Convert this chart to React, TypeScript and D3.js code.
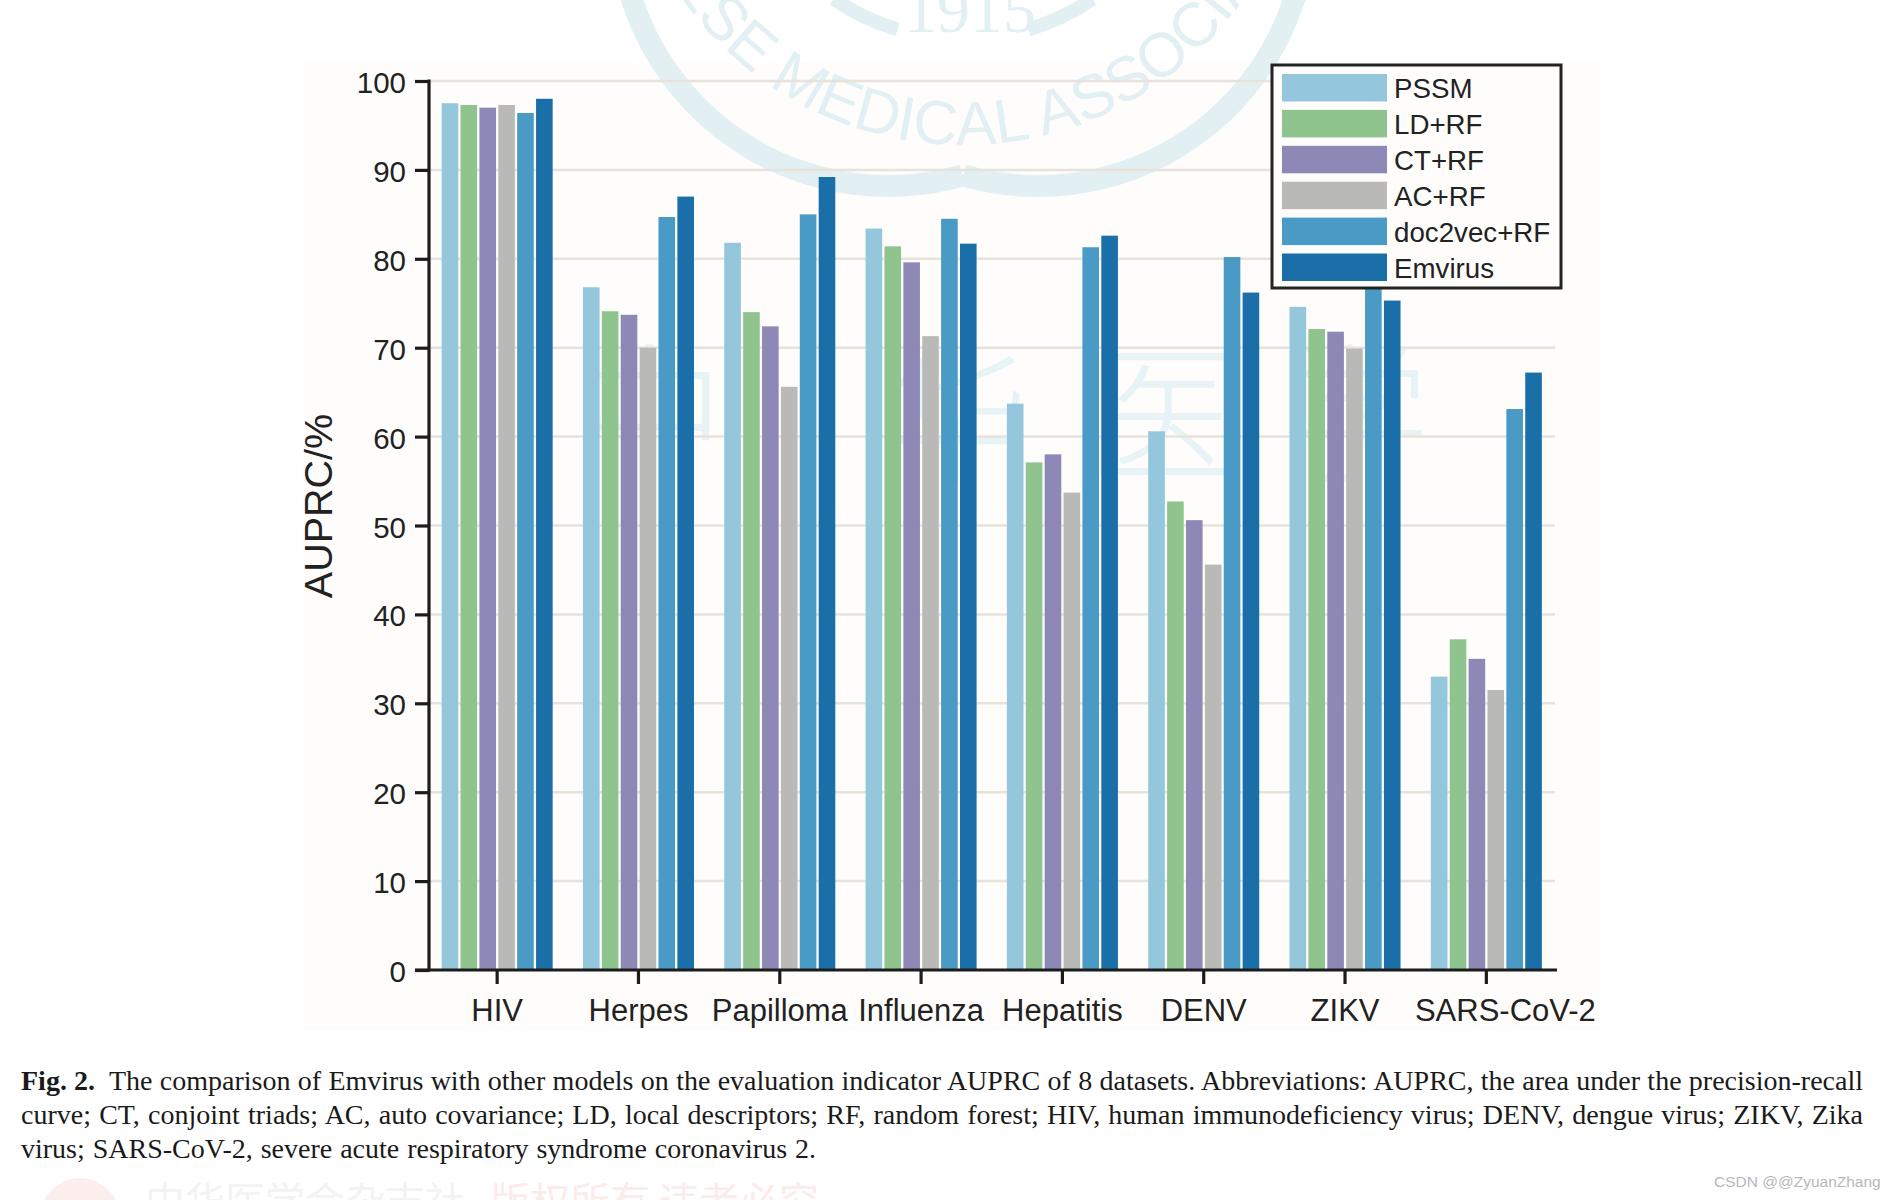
import { useEffect, useRef } from "react";
import * as d3 from "d3";

const WIDTH = 1894;
const HEIGHT = 1200;
const SANS = "'Liberation Sans', Arial, sans-serif";
const SERIF = "'Liberation Serif', serif";

const categories = ["HIV", "Herpes", "Papilloma", "Influenza", "Hepatitis", "DENV", "ZIKV", "SARS-CoV-2"];
const seriesNames = ["PSSM", "LD+RF", "CT+RF", "AC+RF", "doc2vec+RF", "Emvirus"];
const seriesColors = ["#94c6dc", "#8fc48f", "#8e88b6", "#b9b9b7", "#4a9ac6", "#1a6fa9"];

const pssm = [97.5, 76.8, 81.8, 83.4, 63.7, 60.6, 74.6, 33.0];
const ldRf = [97.3, 74.1, 74.0, 81.4, 57.1, 52.7, 72.1, 37.2];
const ctRf = [97.0, 73.7, 72.4, 79.6, 58.0, 50.6, 71.8, 35.0];
const acRf = [97.3, 70.0, 65.6, 71.3, 53.7, 45.6, 69.9, 31.5];
const doc2vecRf = [96.4, 84.7, 85.0, 84.5, 81.3, 80.2, 78.0, 63.1];
const emvirus = [98.0, 87.0, 89.2, 81.7, 82.6, 76.2, 75.3, 67.2];
const seriesValues = [pssm, ldRf, ctRf, acRf, doc2vecRf, emvirus];

const yTicks = [0, 10, 20, 30, 40, 50, 60, 70, 80, 90, 100];

const captionBold = "Fig. 2.";
const captionLines = [
  "The comparison of Emvirus with other models on the evaluation indicator AUPRC of 8 datasets. Abbreviations: AUPRC, the area under the precision-recall",
  "curve; CT, conjoint triads; AC, auto covariance; LD, local descriptors; RF, random forest; HIV, human immunodeficiency virus; DENV, dengue virus; ZIKV, Zika",
  "virus; SARS-CoV-2, severe acute respiratory syndrome coronavirus 2.",
];

const MARGIN = { top: 81, bottom: 970, left: 426.5, right: 1557 };
const WATERMARK = "#e2f0f4";

export default function App() {
  const svgRef = useRef<SVGSVGElement>(null);

  useEffect(() => {
    const svg = d3.select(svgRef.current);
    svg.selectAll("*").remove();

    svg.append("rect").attr("width", WIDTH).attr("height", HEIGHT).attr("fill", "#ffffff");
    // Off-white panel of the pasted figure
    svg.append("rect")
      .attr("x", 303)
      .attr("y", 62)
      .attr("width", 1297)
      .attr("height", 968)
      .attr("fill", "#fefdfc");

    // Journal seal watermark: two arcs that meet in a notch at the bottom
    const seal = svg.append("g");
    const sealX = 963;
    const ringArc = d3.arc<{ startAngle: number; endAngle: number }>()
      .innerRadius(258)
      .outerRadius(280);
    seal.append("path")
      .attr("transform", "translate(888,-83)")
      .attr("d", ringArc({ startAngle: Math.PI - 0.282, endAngle: Math.PI + 1.6 }))
      .attr("fill", WATERMARK);
    seal.append("path")
      .attr("transform", "translate(1038,-83)")
      .attr("d", ringArc({ startAngle: Math.PI - 1.6, endAngle: Math.PI + 0.282 }))
      .attr("fill", WATERMARK);

    const textR = 342;
    const textY = -197;
    seal.append("path")
      .attr("id", "seal-arc")
      .attr("fill", "none")
      .attr("d", `M${sealX - textR},${textY} A${textR},${textR} 0 0 0 ${sealX + textR},${textY}`);
    seal.append("text")
      .attr("font-family", "'Liberation Sans Narrow', 'Liberation Sans', sans-serif")
      .attr("font-size", 62)
      .attr("fill", WATERMARK)
      .append("textPath")
      .attr("href", "#seal-arc")
      .attr("startOffset", "50%")
      .attr("text-anchor", "middle")
      .text("CHINESE MEDICAL ASSOCIATION");

    const innerArc = d3.arc<{ startAngle: number; endAngle: number }>()
      .innerRadius(222)
      .outerRadius(236);
    [
      { startAngle: Math.PI + 0.29, endAngle: Math.PI + 0.6 },
      { startAngle: Math.PI - 0.6, endAngle: Math.PI - 0.29 },
    ].forEach((a) => {
      seal.append("path")
        .attr("transform", `translate(${sealX},-190)`)
        .attr("d", innerArc(a))
        .attr("fill", WATERMARK);
    });
    seal.append("text")
      .attr("x", 970)
      .attr("y", 32)
      .attr("text-anchor", "middle")
      .attr("font-family", SERIF)
      .attr("font-size", 66)
      .attr("fill", WATERMARK)
      .text("1915");

    // Calligraphy watermark behind the bars
    [["中", 650], ["华", 955], ["医", 1160], ["学", 1355]].forEach(([ch, x]) => {
      svg.append("text")
        .attr("x", x as number)
        .attr("y", 470)
        .attr("text-anchor", "middle")
        .attr("font-family", "'Noto Sans CJK SC'")
        .attr("font-weight", 300)
        .attr("font-size", 150)
        .attr("fill", "#e8f3f6")
        .text(ch as string);
    });

    const x0 = d3.scaleBand<string>()
      .domain(categories)
      .range([MARGIN.left, MARGIN.right])
      .paddingInner(0.2144)
      .paddingOuter(0.1072);
    const x1 = d3.scaleBand<string>()
      .domain(seriesNames)
      .range([0, x0.bandwidth()])
      .paddingInner(0.12);
    const y = d3.scaleLinear().domain([0, 100]).range([MARGIN.bottom, MARGIN.top]);

    // Gridlines
    yTicks.filter((t) => t > 0).forEach((t) => {
      svg.append("line")
        .attr("x1", 429)
        .attr("x2", 1555)
        .attr("y1", y(t))
        .attr("y2", y(t))
        .attr("stroke", "#e8e2da")
        .attr("stroke-width", 2.5);
    });

    // Bars
    seriesNames.forEach((name, s) => {
      svg.append("g")
        .selectAll("rect")
        .data(seriesValues[s])
        .join("rect")
        .attr("x", (_, i) => (x0(categories[i]) ?? 0) + (x1(name) ?? 0))
        .attr("y", (d) => y(d))
        .attr("width", x1.bandwidth())
        .attr("height", (d) => MARGIN.bottom - y(d))
        .attr("fill", seriesColors[s]);
    });

    // Axes
    const yAxis = svg.append("g")
      .attr("transform", "translate(429,0)")
      .call(d3.axisLeft(y).tickValues(yTicks).tickSize(14).tickSizeOuter(0).tickPadding(9));
    const xAxis = svg.append("g")
      .attr("transform", `translate(0,${MARGIN.bottom})`)
      .call(d3.axisBottom(x0).tickSize(14).tickSizeOuter(0).tickPadding(15));

    [yAxis, xAxis].forEach((axis) => {
      axis.selectAll("path.domain").remove();
      axis.selectAll("line").attr("stroke", "#1c1c1c").attr("stroke-width", 3.2);
      axis.selectAll("text").attr("font-family", SANS).attr("fill", "#222222");
    });
    yAxis.selectAll("text").attr("font-size", 29.5).attr("dy", "0.39em");
    xAxis.selectAll("text").attr("font-size", 31);
    // The last label sits right of its tick in the original
    xAxis.selectAll<SVGTextElement, string>("text")
      .filter((d) => d === "SARS-CoV-2")
      .attr("dx", 19);

    svg.append("line")
      .attr("x1", 429)
      .attr("x2", 429)
      .attr("y1", MARGIN.top - 1.5)
      .attr("y2", MARGIN.bottom + 1.5)
      .attr("stroke", "#1c1c1c")
      .attr("stroke-width", 3.2);
    svg.append("line")
      .attr("x1", 415)
      .attr("x2", 1557)
      .attr("y1", MARGIN.bottom)
      .attr("y2", MARGIN.bottom)
      .attr("stroke", "#1c1c1c")
      .attr("stroke-width", 3.2);

    // Y axis label
    svg.append("text")
      .attr("transform", "translate(332,506) rotate(-90)")
      .attr("text-anchor", "middle")
      .attr("font-family", SANS)
      .attr("font-size", 39.5)
      .attr("fill", "#222222")
      .text("AUPRC/%");

    // Legend
    const legend = svg.append("g");
    legend.append("rect")
      .attr("x", 1272)
      .attr("y", 65)
      .attr("width", 289)
      .attr("height", 223)
      .attr("fill", "#fefdfc")
      .attr("stroke", "#222222")
      .attr("stroke-width", 3);
    seriesNames.forEach((name, i) => {
      const top = 74 + i * 35.9;
      legend.append("rect")
        .attr("x", 1282)
        .attr("y", top)
        .attr("width", 105)
        .attr("height", 27.5)
        .attr("fill", seriesColors[i]);
      legend.append("text")
        .attr("x", 1394)
        .attr("y", top + 24)
        .attr("font-family", SANS)
        .attr("font-size", 27.7)
        .attr("fill", "#222222")
        .text(name);
    });

    // Caption, justified by adjusting the word gaps
    const caption = svg.append("g")
      .attr("font-family", SERIF)
      .attr("font-size", 28)
      .attr("fill", "#1a1a1a");
    caption.append("text")
      .attr("x", 21)
      .attr("y", 1090)
      .attr("font-weight", "bold")
      .text(captionBold);
    const captionX = [109, 21, 21];
    const captionLen = [1754, 1842, 795];
    const captionY = [1090, 1124, 1158];
    captionLines.forEach((line, i) => {
      const t = caption.append("text")
        .attr("x", captionX[i])
        .attr("y", captionY[i])
        .text(line);
      const natural = (t.node() as SVGTextElement).getComputedTextLength();
      const gaps = line.split(" ").length - 1;
      t.attr("word-spacing", (captionLen[i] - natural) / gaps);
    });

    // Page footer watermark, cut off by the bottom of the picture
    svg.append("circle")
      .attr("cx", 80)
      .attr("cy", 1218)
      .attr("r", 40)
      .attr("fill", "#fdeeee");
    svg.append("text")
      .attr("x", 145)
      .attr("y", 1216)
      .attr("font-family", "'Noto Sans CJK SC'")
      .attr("font-size", 40)
      .attr("fill", "#f4f2f2")
      .text("中华医学会杂志社");
    svg.append("text")
      .attr("x", 490)
      .attr("y", 1216)
      .attr("font-family", "'Noto Sans CJK SC'")
      .attr("font-size", 40)
      .attr("fill", "#fcebeb")
      .text("版权所有 违者必究");

    svg.append("text")
      .attr("x", 1714)
      .attr("y", 1187)
      .attr("font-family", SANS)
      .attr("font-size", 15.5)
      .attr("fill", "#b4b8bc")
      .text("CSDN @@ZyuanZhang");
  }, []);

  return (
    <svg
      ref={svgRef}
      width={WIDTH}
      height={HEIGHT}
      viewBox={`0 0 ${WIDTH} ${HEIGHT}`}
      style={{ position: "absolute", left: 0, top: 0, display: "block" }}
    />
  );
}
